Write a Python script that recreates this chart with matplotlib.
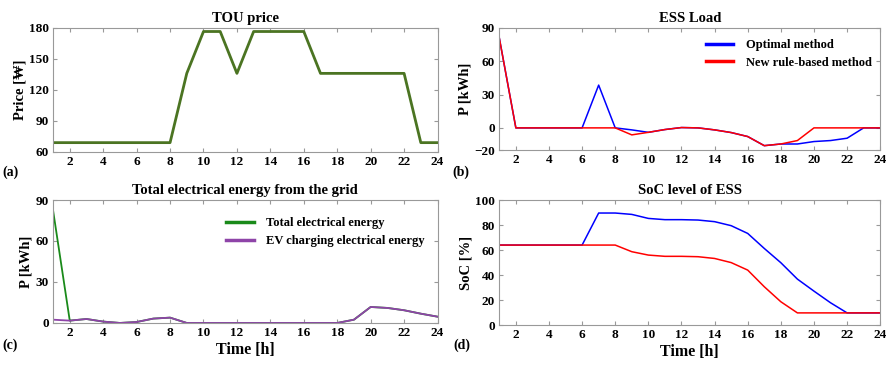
import matplotlib as mpl
mpl.use('Agg')
import matplotlib.pyplot as plt

hours = list(range(1, 25))

# (a) TOU price
price = [69, 69, 69, 69, 69, 69, 69, 69, 136, 176.5, 176.5, 136, 176.5, 176.5, 176.5, 176.5,
         136, 136, 136, 136, 136, 136, 69, 69]

# (b) ESS load
ess_opt = [81, 0, 0, 0, 0, 0, 38.5, 0, -1.8, -4, -1.5, 0.3, 0, -1.8, -4.2, -7.8,
           -16, -14.5, -14.5, -12.3, -11.4, -9.3, 0, 0]
ess_rule = [81, 0, 0, 0, 0, 0, 0, 0, -6.3, -4, -1.5, 0.3, 0, -1.8, -4.2, -7.8,
            -16, -14.5, -11.4, 0, 0, 0, 0, 0]

# (c) grid energy
ev_energy = [2.4, 1.7, 2.9, 1, 0, 0.7, 3.2, 3.9, 0, 0, 0, 0, 0, 0, 0, 0,
             0, 0, 2.4, 11.7, 11, 9.3, 6.8, 4.6]
total_energy = [82.5] + ev_energy[1:]

# (d) SoC
soc_opt = [64, 64, 64, 64, 64, 64, 89.6, 89.6, 88.5, 85.3, 84.3, 84.3, 84, 82.7, 79.5, 73.3,
           61.3, 49.9, 36.8, 27.2, 17.9, 9.8, 9.8, 9.8]
soc_rule = [64, 64, 64, 64, 64, 64, 64, 64, 58.7, 56, 55, 55, 54.7, 53.3, 50, 44,
            30.7, 18.7, 9.8, 9.8, 9.8, 9.8, 9.8, 9.8]

SERIF = ['Liberation Serif', 'DejaVu Serif']
plt.rcParams['font.family'] = SERIF
plt.rcParams['font.weight'] = 'bold'


def style(ax, title, ylabel, yticks, ylim):
    ax.set_xlim(1, 24)
    ax.set_xticks(range(2, 25, 2))
    ax.set_ylim(*ylim)
    ax.set_yticks(yticks)
    ax.set_title(title, fontsize=10.5, fontweight='bold', pad=4)
    ax.set_ylabel(ylabel, fontsize=10.5, fontweight='bold', labelpad=2)
    ax.tick_params(direction='in', length=3, color='#999999', top=True, right=True,
                   labelsize=9.5, pad=3)
    for lbl in ax.get_xticklabels() + ax.get_yticklabels():
        lbl.set_fontweight('bold')
    for s in ax.spines.values():
        s.set_color('#999999')
        s.set_linewidth(0.8)


def legend(ax, anchor):
    leg = ax.legend(loc='upper right', frameon=False,
                    prop={'family': SERIF, 'weight': 'bold', 'size': 9},
                    handlelength=2.2, handletextpad=1.0, borderaxespad=0.3,
                    labelspacing=0.45, bbox_to_anchor=anchor)
    for h in leg.get_lines():
        h.set_linewidth(2.5)


fig = plt.figure(figsize=(8.9, 3.67), dpi=100)
ax_a = fig.add_axes([0.0596, 0.586, 0.432, 0.338])
ax_b = fig.add_axes([0.561, 0.591, 0.428, 0.333])
ax_c = fig.add_axes([0.0596, 0.120, 0.432, 0.335])
ax_d = fig.add_axes([0.561, 0.114, 0.428, 0.341])

ax_a.plot(hours, price, color='#4b7422', lw=2)
style(ax_a, 'TOU price', 'Price [\u20a9]', [60, 90, 120, 150, 180], (60, 180))

ax_b.plot(hours, ess_opt, color='#0000ff', lw=1.1, label='Optimal method')
ax_b.plot(hours, ess_rule, color='#ff0000', lw=1.1, label='New rule-based method')
style(ax_b, 'ESS Load', 'P [kWh]', [-20, 0, 30, 60, 90], (-20, 90))
legend(ax_b, (1.0, 0.98))

ax_c.plot(hours, total_energy, color='#1a8a1a', lw=1.3, label='Total electrical energy')
ax_c.plot(hours, ev_energy, color='#8e44a8', lw=1.3, label='EV charging electrical energy')
style(ax_c, 'Total electrical energy from the grid', 'P [kWh]', [0, 30, 60, 90], (0, 90))
ax_c.set_xlabel('Time [h]', fontsize=11.5, fontweight='bold', labelpad=2)
legend(ax_c, (0.99, 0.93))

ax_d.plot(hours, soc_opt, color='#0000ff', lw=1.1)
ax_d.plot(hours, soc_rule, color='#ff0000', lw=1.1)
style(ax_d, 'SoC level of ESS', 'SoC [%]', [0, 20, 40, 60, 80, 100], (0, 100))
ax_d.set_xlabel('Time [h]', fontsize=11.5, fontweight='bold', labelpad=2)

for txt, x, y in [('(a)', 2, 172), ('(b)', 452, 172), ('(c)', 2, 345), ('(d)', 453, 345)]:
    fig.text(x / 890, 1 - y / 367, txt, fontsize=10, fontweight='bold', va='center', ha='left')

fig.savefig('out.png', dpi=100)
